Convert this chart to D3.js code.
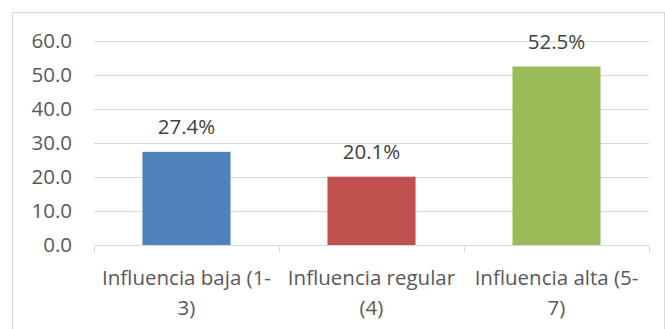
<!DOCTYPE html>
<html>
<head>
<meta charset="utf-8">
<script src="https://cdn.jsdelivr.net/npm/d3@7"></script>
<style>
  html, body { margin: 0; padding: 0; background: #fff; }
  svg { display: block; font-family: "Open Sans", sans-serif; }
</style>
</head>
<body>
<svg id="chart" width="665" height="329"></svg>
<script>
const categories = [["Influencia baja (1-", "3)"], ["Influencia regular", "(4)"], ["Influencia alta (5-", "7)"]];
const values = [27.4, 20.1, 52.5];
const colors = ["#4f81bd", "#c0504d", "#9bbb59"];
const yTicks = [0, 10, 20, 30, 40, 50, 60];

const svg = d3.select("#chart");
const margin = { left: 94, right: 16, top: 41, bottom: 84 };
const W = 665, H = 329;
const fontSize = 20.5;

// outer chart frame
svg.append("rect")
  .attr("x", 12.5).attr("y", 12.5)
  .attr("width", 652).attr("height", 330)
  .attr("fill", "#fff").attr("stroke", "#d9d9d9").attr("stroke-width", 1);

const x = d3.scaleBand()
  .domain(d3.range(categories.length))
  .range([margin.left, W - margin.right])
  .padding(0);

const y = d3.scaleLinear()
  .domain([0, 60])
  .range([H - margin.bottom, margin.top]);

// horizontal gridlines
svg.append("g")
  .selectAll("line")
  .data(yTicks.filter(d => d > 0))
  .join("line")
  .attr("x1", margin.left).attr("x2", W - margin.right)
  .attr("y1", d => Math.round(y(d)) + 0.5).attr("y2", d => Math.round(y(d)) + 0.5)
  .attr("stroke", "#d9d9d9").attr("stroke-width", 1);

// y axis labels
svg.append("g")
  .selectAll("text")
  .data(yTicks)
  .join("text")
  .attr("x", 72)
  .attr("y", d => y(d))
  .attr("dy", "0.36em")
  .attr("text-anchor", "end")
  .attr("fill", "#595959")
  .attr("font-size", fontSize)
  .text(d => d.toFixed(1));

// bars
const barW = x.bandwidth() * 0.476;
svg.append("g")
  .selectAll("rect")
  .data(values)
  .join("rect")
  .attr("x", (d, i) => x(i) + x.bandwidth() / 2 - barW / 2)
  .attr("y", d => y(d))
  .attr("width", barW)
  .attr("height", d => y(0) - y(d))
  .attr("fill", (d, i) => colors[i]);

// category axis line and ticks
const y0 = Math.round(y(0)) + 0.5;
svg.append("line")
  .attr("x1", margin.left).attr("x2", W - margin.right)
  .attr("y1", y0).attr("y2", y0)
  .attr("stroke", "#d9d9d9").attr("stroke-width", 1);
svg.append("g")
  .selectAll("line")
  .data(d3.range(categories.length + 1))
  .join("line")
  .attr("x1", i => Math.round(margin.left + i * x.step()) + 0.5)
  .attr("x2", i => Math.round(margin.left + i * x.step()) + 0.5)
  .attr("y1", y0).attr("y2", y0 + 7)
  .attr("stroke", "#d9d9d9").attr("stroke-width", 1);

// data labels
svg.append("g")
  .selectAll("text")
  .data(values)
  .join("text")
  .attr("x", (d, i) => x(i) + x.bandwidth() / 2)
  .attr("y", d => y(d) - 17.5)
  .attr("text-anchor", "middle")
  .attr("fill", "#404040")
  .attr("font-size", fontSize)
  .text(d => d.toFixed(1) + "%");

// category labels (two lines each)
const cat = svg.append("g")
  .selectAll("text")
  .data(categories)
  .join("text")
  .attr("text-anchor", "middle")
  .attr("fill", "#595959")
  .attr("font-size", fontSize);
cat.each(function(lines, i) {
  d3.select(this).selectAll("tspan")
    .data(lines)
    .join("tspan")
    .attr("x", x(i) + x.bandwidth() / 2)
    .attr("y", (d, j) => 285 + j * 30)
    .text(d => d);
});
</script>
</body>
</html>
